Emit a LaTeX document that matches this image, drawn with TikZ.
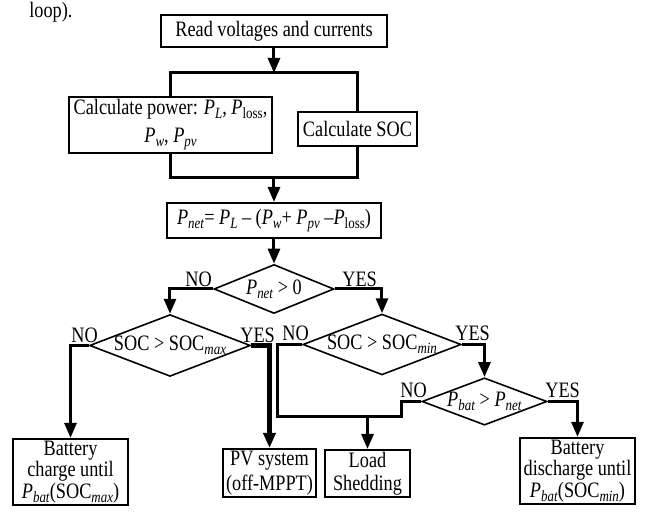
\documentclass[tikz,border=0pt]{standalone}
\usepackage{fontspec}
\setmainfont{Liberation Serif}[FakeStretch=0.83]
\usetikzlibrary{arrows.meta,shapes.geometric,positioning,calc}

\newcommand{\lowsub}[1]{\raisebox{-0.4ex}{\fontsize{7.8}{8}\selectfont #1}}
\newcommand{\var}[2]{\textit{#1}\lowsub{\textit{#2}}}

\begin{document}
\begin{tikzpicture}[
    x=0.5pt, y=-0.5pt,
    procbox/.style={draw, line width=1pt, minimum width=#1, inner sep=1pt, align=center,
        font=\fontsize{11}{12}\selectfont},
    decision/.style={draw, diamond, line width=0.8pt, inner sep=0pt, aspect=2.6,
        font=\fontsize{11}{12}\selectfont},
    lbl/.style={font=\fontsize{11}{12}\selectfont, inner sep=0pt, anchor=base west},
    link/.style={line width=1.5pt},
    arr/.style={-{Triangle[length=7.5pt, width=6pt]}, line width=1.5pt}
]
\useasboundingbox (0,0) rectangle (650,522);

\node[lbl] (loop) at (29,18) {loop).};

\node[procbox=113pt, minimum height=16pt] (read) at (274,31) {Read voltages and currents};
\node[procbox=101.5pt, minimum height=28pt] (calcP) at (170.5,125)
    {Calculate power: \var{P}{L}, \textit{P}\lowsub{loss},\\[2pt] \var{P}{w}, \var{P}{pv}};
\node[procbox=59.5pt, minimum height=17pt] (calcS) at (357.5,129) {Calculate SOC};
\node[procbox=107pt, minimum height=17.5pt] (pnet) at (274,220.5)
    {\var{P}{net}= \var{P}{L} -- (\var{P}{w}+ \var{P}{pv} --\textit{P}\lowsub{loss})};

\node[decision, minimum width=60pt, minimum height=24.5pt] (d1) at (274,289) {\var{P}{net} > 0};
\node[decision, minimum width=75pt, minimum height=27.5pt] (d2) at (170,345.5) {SOC > SOC\lowsub{\textit{max}}};
\node[decision, minimum width=75pt, minimum height=27.5pt] (d3) at (382,344.5) {SOC > SOC\lowsub{\textit{min}}};
\node[decision, minimum width=62.5pt, minimum height=23.5pt] (d4) at (484.5,401.5) {\var{P}{bat} > \var{P}{net}};

\node[procbox=57.5pt, minimum height=33pt, font=\fontsize{11}{10.8}\selectfont] (charge) at (70.5,472)
    {Battery\\charge until\\\var{P}{bat}(SOC\lowsub{\textit{max}})};
\node[procbox=46.5pt, minimum height=24pt, font=\fontsize{11}{12.5}\selectfont] (pv) at (269.5,473)
    {PV system\\(off-MPPT)};
\node[procbox=42.5pt, minimum height=22.5pt, font=\fontsize{11}{11.5}\selectfont] (load) at (367.5,473.5)
    {Load\\Shedding};
\node[procbox=57.5pt, minimum height=33pt, font=\fontsize{11}{10.8}\selectfont] (discharge) at (577.5,471)
    {Battery\\discharge until\\\var{P}{bat}(SOC\lowsub{\textit{min}})};

\node[lbl] (no1) at (185,287) {NO};
\node[lbl] (yes1) at (342,287) {YES};
\node[lbl] (no2) at (71,343) {NO};
\node[lbl] (yes2) at (240,343) {YES};
\node[lbl] (no3) at (282,341) {NO};
\node[lbl] (yes3) at (455,341) {YES};
\node[lbl] (no4) at (400,398) {NO};
\node[lbl] (yes4) at (545,398) {YES};

\coordinate (splitT) at (274,73);
\coordinate (joinB) at (274,178);
\coordinate (loadJ) at (367.5,417);

\draw[arr] (read) -- (splitT);
\draw[link] (calcP.north) |- (splitT) -| (calcS.north);
\draw[link] (calcP.south) |- (joinB) -| (calcS.south);
\draw[arr] (joinB) -- (pnet);
\draw[arr] (pnet) -- (d1);

\draw[arr] (d1.west) -| (d2.north);
\draw[arr] (d1.east) -| (d3.north);
\draw[arr] (d2.west) -| (charge.north);
\draw[arr, line width=2.2pt] (d2.east) -| (pv.north);
\draw[arr] (d3.east) -| (d4.north);
\draw[arr] (d4.east) -| (discharge.north);

\draw[link] (d4.west) -- ++(-20,0) |- (loadJ);
\draw[link] (d3.west) -- ++(-25,0) |- (loadJ);
\draw[arr] (loadJ) -- (load);
\end{tikzpicture}
\end{document}
